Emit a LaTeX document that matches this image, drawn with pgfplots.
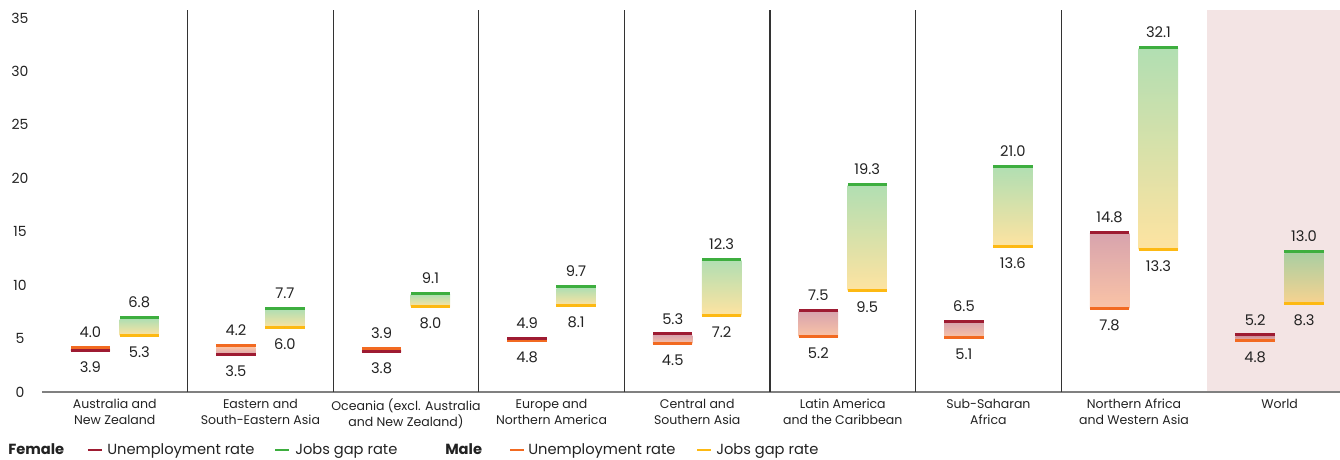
\documentclass[border=0pt]{standalone}
\usepackage{pgfplots}
\pgfplotsset{compat=1.18}
\usepackage{pgfplotstable}
\usepackage{fontspec}
\setmainfont{Poppins}
\definecolor{fU}{HTML}{9E1B32}
\definecolor{mU}{HTML}{F26A21}
\definecolor{fG}{HTML}{3DAE3F}
\definecolor{mG}{HTML}{FDB913}
\definecolor{worldbg}{HTML}{F3E4E4}
\definecolor{sepc}{HTML}{333333}
\definecolor{axisgray}{HTML}{808080}
\definecolor{txt}{HTML}{222222}

% fu/mu: female/male unemployment rate; fg/mg: female/male jobs gap rate
% ut/ub: which sex holds the upper/lower unemployment value
\pgfplotstableread{
x fu mu fg mg ut ub
0 3.9 4.0 6.8 5.3 m f
1 3.5 4.2 7.7 6.0 m f
2 3.8 3.9 9.1 8.0 m f
3 4.9 4.8 9.7 8.1 f m
4 5.3 4.5 12.3 7.2 f m
5 7.5 5.2 19.3 9.5 f m
6 6.5 5.1 21.0 13.6 f m
7 14.8 7.8 32.1 13.3 f m
8 5.2 4.8 13.0 8.3 f m
}\datatable

% y unit: 286.5pt / 35.75
\def\yunit{8.013986}
\pgfplotsset{
  /pgf/number format/assume math mode=true,
  ln/.style={only marks, mark=-, mark size=14.8pt},
  ucls/.style={scatter, point meta=explicit symbolic, scatter/classes={f={draw=fU}, m={draw=mU}}},
  fbarbase/.style={only marks, scatter, mark=*, mark size=0pt, mark options={draw=none,fill=none},
    scatter/@post marker code/.code={}},
  lbl/.style={only marks, mark=*, mark size=0pt, mark options={draw=none,fill=none},
    point meta=y,
    nodes near coords={\pgfmathprintnumber[fixed,fixed zerofill,precision=1]{\pgfplotspointmeta}},
    every node near coord/.append style={font=\fontsize{11}{13}\selectfont, text=txt, inner sep=0pt}},
  hi/.style={lbl, every node near coord/.append style={anchor=south, yshift=8.25pt}},
  lo/.style={lbl, every node near coord/.append style={anchor=north, yshift=-8.25pt}},
}
\begin{document}
\begin{tikzpicture}
\path[use as bounding box] (-31.5pt,-51pt) rectangle (973.5pt,294pt);
% World background band (x from 7.5 to xmax)
\fill[worldbg] (873.6pt,0pt) rectangle (973.5pt,286.5pt);
\begin{axis}[
  scale only axis, width=973.5pt, height=286.5pt,
  xmin=-0.5, xmax=8.415, ymin=0, ymax=35.75,
  clip=false,
  axis x line*=bottom, axis y line*=left,
  y axis line style={draw=none},
  x axis line style={draw=axisgray, line width=1.1pt},
  ytick={0,5,...,35},
  ytick style={draw=none},
  yticklabel style={anchor=center, xshift=-16.5pt, font=\fontsize{10.5}{12}\selectfont, text=txt},
  xtick={0,...,8},
  xticklabels={{Australia and\\New Zealand},{Eastern and\\South-Eastern Asia},{Oceania (excl. Australia\\and New Zealand)},{Europe and\\Northern America},{Central and\\Southern Asia},{Latin America\\and the Caribbean},{Sub-Saharan\\Africa},{Northern Africa\\and Western Asia},{World}},
  xtick style={draw=none},
  xticklabel style={align=center, anchor=north, inner sep=0pt, yshift=-5.25pt, font=\fontsize{9.4}{11.6}\selectfont, text=txt},
  extra x ticks={0.5,1.5,...,6.5},
  extra x tick labels={},
  extra x tick style={xmajorgrids=true, major grid style={sepc, line width=0.8pt}, major tick length=0pt},
]
% floating bars with per-bar gradient (base at the lower value)
\addplot[fbarbase,
  visualization depends on={abs(\thisrow{fu}-\thisrow{mu})*\yunit \as \hh},
  visualization depends on={(\thisrow{fu}>\thisrow{mu}) \as \ftop},
  scatter/@pre marker code/.code={%
    \ifdim\ftop pt>0.5pt
      \shade[draw=none, top color=fU, bottom color=mU, fill opacity=0.4] (-14.8pt,0pt) rectangle (14.8pt,\hh pt);
    \else
      \shade[draw=none, top color=mU, bottom color=fU, fill opacity=0.4] (-14.8pt,0pt) rectangle (14.8pt,\hh pt);
    \fi}]
  table[x expr=\thisrow{x}-0.168, y expr={min(\thisrow{fu},\thisrow{mu})}] {\datatable};
\addplot[fbarbase,
  visualization depends on={(\thisrow{fg}-\thisrow{mg})*\yunit \as \hh},
  scatter/@pre marker code/.code={%
    \shade[draw=none, top color=fG, bottom color=mG, fill opacity=0.4] (-14.8pt,0pt) rectangle (14.8pt,\hh pt);}]
  table[x expr=\thisrow{x}+0.168, y=mg] {\datatable};
% lower lines (centred on value), then upper lines (sitting on value)
\addplot[ln, ucls, mark options={line width=2.3pt}] table[x expr=\thisrow{x}-0.168, y expr={min(\thisrow{fu},\thisrow{mu})}, meta=ub] {\datatable};
\addplot[ln, ucls, mark options={line width=2.3pt, yshift=1.1pt}] table[x expr=\thisrow{x}-0.168, y expr={max(\thisrow{fu},\thisrow{mu})}, meta=ut] {\datatable};
\addplot[ln, mark options={line width=2.3pt, draw=mG}] table[x expr=\thisrow{x}+0.168, y=mg] {\datatable};
\addplot[ln, mark options={line width=2.3pt, draw=fG, yshift=1.1pt}] table[x expr=\thisrow{x}+0.168, y=fg] {\datatable};
% value labels
\addplot[hi] table[x expr=\thisrow{x}-0.168, y expr={max(\thisrow{fu},\thisrow{mu})}] {\datatable};
\addplot[lo] table[x expr=\thisrow{x}-0.168, y expr={min(\thisrow{fu},\thisrow{mu})}] {\datatable};
\addplot[hi] table[x expr=\thisrow{x}+0.168, y=fg] {\datatable};
\addplot[lo] table[x expr=\thisrow{x}+0.168, y=mg] {\datatable};
\end{axis}
\begin{scope}[every node/.style={anchor=base west, inner sep=0pt, text=txt, font=\fontsize{11}{13}\selectfont}]
\node[font=\bfseries\fontsize{11}{13}\selectfont] at (-25.5pt,-47.25pt) {Female};
\draw[fU, line width=2.2pt] (34.5pt,-43.5pt) -- (45pt,-43.5pt);
\node at (48.75pt,-47.25pt) {Unemployment rate};
\draw[fG, line width=2.2pt] (174.75pt,-43.5pt) -- (185.25pt,-43.5pt);
\node at (189.75pt,-47.25pt) {Jobs gap rate};
\node[font=\bfseries\fontsize{11}{13}\selectfont] at (302.25pt,-47.25pt) {Male};
\draw[mU, line width=2.2pt] (351pt,-43.5pt) -- (361.5pt,-43.5pt);
\node at (364.5pt,-47.25pt) {Unemployment rate};
\draw[mG, line width=2.2pt] (491.25pt,-43.5pt) -- (501.75pt,-43.5pt);
\node at (505.5pt,-47.25pt) {Jobs gap rate};
\end{scope}
\end{tikzpicture}
\end{document}
